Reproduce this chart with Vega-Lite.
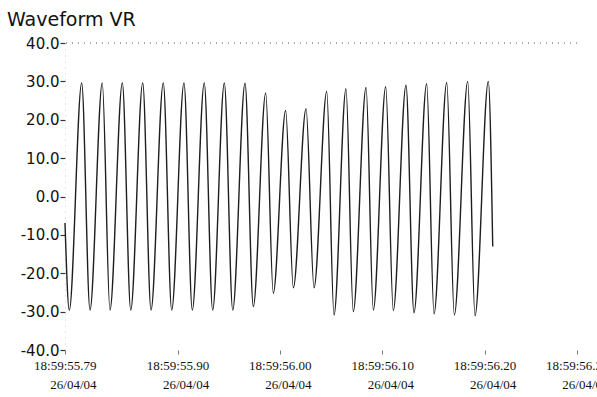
{
  "$schema": "https://vega.github.io/schema/vega-lite/v6.json",
  "width": 512,
  "height": 307,
  "autosize": {"type": "none"},
  "padding": {"left": 65, "top": 43, "right": 20, "bottom": 47},
  "background": "white",
  "title": {
    "text": "Waveform VR",
    "anchor": "start",
    "frame": "group",
    "dx": -58,
    "offset": 6,
    "font": "DejaVu Sans",
    "fontSize": 19,
    "fontWeight": "normal",
    "color": "#111111"
  },
  "config": {"view": {"stroke": null}},
  "resolve": {"axis": {"y": "independent"}},
  "data": {
    "values": [
      {"t": 55.7900, "v": -6.9},
      {"t": 55.7942, "v": -29.6},
      {"t": 55.8063, "v": 29.6},
      {"t": 55.8144, "v": -29.6},
      {"t": 55.8264, "v": 29.6},
      {"t": 55.8339, "v": -29.6},
      {"t": 55.8460, "v": 29.6},
      {"t": 55.8542, "v": -29.6},
      {"t": 55.8659, "v": 29.6},
      {"t": 55.8740, "v": -29.6},
      {"t": 55.8860, "v": 29.6},
      {"t": 55.8942, "v": -29.6},
      {"t": 55.9062, "v": 29.6},
      {"t": 55.9143, "v": -29.6},
      {"t": 55.9260, "v": 29.6},
      {"t": 55.9342, "v": -29.6},
      {"t": 55.9456, "v": 29.6},
      {"t": 55.9538, "v": -29.6},
      {"t": 55.9658, "v": 29.5},
      {"t": 55.9739, "v": -28.7},
      {"t": 55.9860, "v": 27.0},
      {"t": 55.9934, "v": -25.2},
      {"t": 56.0055, "v": 22.4},
      {"t": 56.0130, "v": -23.8},
      {"t": 56.0254, "v": 22.9},
      {"t": 56.0332, "v": -23.8},
      {"t": 56.0456, "v": 27.4},
      {"t": 56.0527, "v": -30.9},
      {"t": 56.0644, "v": 28.1},
      {"t": 56.0715, "v": -30.0},
      {"t": 56.0840, "v": 28.4},
      {"t": 56.0911, "v": -29.6},
      {"t": 56.1032, "v": 28.6},
      {"t": 56.1106, "v": -29.7},
      {"t": 56.1230, "v": 29.0},
      {"t": 56.1308, "v": -30.3},
      {"t": 56.1432, "v": 29.4},
      {"t": 56.1504, "v": -30.6},
      {"t": 56.1628, "v": 29.7},
      {"t": 56.1702, "v": -30.9},
      {"t": 56.1833, "v": 30.0},
      {"t": 56.1904, "v": -31.1},
      {"t": 56.2034, "v": 30.0},
      {"t": 56.2077, "v": -13.0}
    ]
  },
  "layer": [
    {
      "mark": {"type": "line", "interpolate": "monotone", "color": "#1e1e1e", "strokeWidth": 1.4},
      "encoding": {
        "x": {
          "field": "t",
          "type": "quantitative",
          "scale": {"domain": [55.79, 56.29], "nice": false, "zero": false},
          "axis": {
            "values": [55.79, 55.9, 56.0, 56.1, 56.2, 56.29],
            "labelExpr": "['18:59:' + format(datum.value, '.2f'), '26/04/04']",
            "labelFont": "Liberation Serif",
            "labelFontSize": 13,
            "labelColor": "#111111",
            "labelAlign": "right",
            "labelOffset": 31,
            "labelPadding": 5,
            "labelLineHeight": 19,
            "labelBaseline": "top",
            "tickSize": 4,
            "tickColor": "#777777",
            "domain": false,
            "grid": false,
            "title": null,
            "labelOverlap": false,
            "labelBound": false,
            "labelFlush": false
          }
        },
        "y": {
          "field": "v",
          "type": "quantitative",
          "scale": {"domain": [-40, 40], "nice": false},
          "axis": {
            "values": [-40, -30, -20, -10, 0, 10, 20, 30, 40],
            "labelExpr": "(datum.value < 0 ? '-' : '') + format(abs(datum.value), '.1f')",
            "labelFont": "DejaVu Sans",
            "labelFontSize": 15,
            "labelColor": "#111111",
            "labelPadding": 1,
            "tickSize": 5,
            "tickColor": "#333333",
            "tickWidth": 1.2,
            "domainColor": "#cccccc",
            "domainDash": [1, 5],
            "grid": false,
            "title": null,
            "labelOverlap": false,
            "labelBound": false,
            "labelFlush": false
          }
        }
      }
    },
    {
      "mark": {"type": "rule", "color": "#aaaaaa", "strokeDash": [1, 5], "strokeWidth": 1},
      "encoding": {"y": {"datum": 40, "type": "quantitative", "axis": null}}
    }
  ]
}
